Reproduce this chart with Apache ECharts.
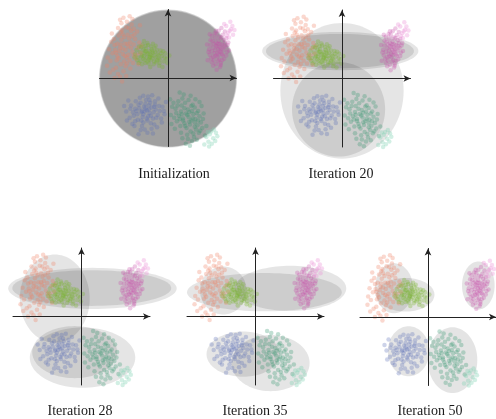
<!DOCTYPE html>
<html>
<head>
<meta charset="utf-8">
<script src="https://cdn.jsdelivr.net/npm/echarts@6/dist/echarts.min.js"></script>
<style>html,body{margin:0;padding:0;background:#fff;}#c{width:496px;height:419px;}</style>
</head>
<body>
<div id="c"></div>
<script>
// ---- data (axis units, range -10..10) ----
var orangePts = [[-6.2,4.1],[-5.8,4.6],[-6.6,3.5],[-5.5,5.2],[-7.0,4.4],[-6.0,3.0],[-5.2,3.8],[-6.8,5.6],[-7.4,3.2],[-5.9,6.3],[-6.4,2.4],[-5.0,4.9],[-7.8,4.8],[-6.9,2.0],[-5.4,6.9],[-6.1,7.4],[-7.2,6.2],[-4.8,5.7],[-7.6,1.5],[-6.5,1.0],[-8.1,3.6],[-5.6,2.6],[-4.6,3.4],[-6.3,5.0],[-7.1,3.9],[-5.3,7.8],[-6.7,7.0],[-8.4,2.5],[-7.3,0.6],[-5.7,5.8],[-4.9,6.4],[-6.0,8.2],[-7.9,5.7],[-6.6,4.3],[-5.1,2.2],[-8.0,1.2],[-6.2,1.7],[-7.5,2.6],[-4.4,4.4],[-5.8,3.4],[-6.9,6.7],[-5.0,7.2],[-7.7,4.1],[-6.4,6.0],[-8.6,4.2],[-7.0,0.2],[-5.5,1.4],[-4.7,2.8],[-6.8,8.0],[-5.2,8.6],
  [-8.8,3.0],[-8.3,5.3],[-7.3,7.3],[-4.2,5.2],[-4.0,3.6],[-5.6,9.0],[-6.5,8.8],[-7.8,0.0],[-8.9,1.8],[-6.1,0.3],[-4.5,6.8],[-3.9,4.7],[-7.4,5.0],[-6.3,3.2],[-5.4,4.4],[-6.9,4.9],[-5.9,5.0],[-6.6,6.4],[-7.2,2.9],[-5.0,3.3],[-8.2,6.5],[-4.3,2.0],[-6.0,2.1],[-7.6,3.7],[-5.3,6.1],[-8.5,0.8],[-6.7,-0.5],[-4.1,7.7],[-5.7,7.3],[-7.0,8.5]];
var greenPts = [[-3.0,3.5],[-3.4,3.9],[-2.6,3.1],[-3.8,3.3],[-2.2,3.7],[-3.2,4.3],[-2.8,2.7],[-4.1,3.8],[-1.8,3.0],[-3.6,2.8],[-2.4,4.2],[-3.9,4.5],[-1.5,3.5],[-2.9,4.8],[-4.4,3.0],[-2.0,2.4],[-3.3,2.2],[-1.2,2.7],[-4.6,4.1],[-2.7,3.9],[-3.5,3.6],[-2.3,2.9],[-1.6,4.1],[-4.0,2.5],[-3.1,3.0],[-2.5,4.6],[-0.9,3.2],[-3.7,4.9],[-1.9,3.8],[-4.8,3.5],[-2.1,2.0],[-0.6,2.4],[-3.4,2.6],[-2.6,3.4],[-1.3,1.8],[-3.0,5.1],[-4.3,2.2],[-1.7,2.3],[-0.4,3.6],[-2.8,2.1],[-3.6,4.2],[-1.1,4.0],[-2.2,5.0],[-0.8,1.6],[-3.9,3.1],[-2.4,3.3],[-1.4,2.9],[-0.2,2.8],
  [-2.7,3.0],[-3.2,3.9],[-2.0,3.3],[-3.5,3.2],[-2.5,2.6],[-1.0,3.6],[-4.2,4.6],[-3.3,4.7],[-1.6,2.6],[-2.9,3.6],[-0.5,3.0],[-4.5,2.6],[-2.0,4.4],[-1.2,2.2],[-3.8,2.0],[-0.1,2.2],[0.2,3.3],[-2.6,1.6],[-3.5,5.4],[-1.8,4.7],[-4.9,3.0],[-1.4,3.3],[-2.3,3.9],[-3.0,2.4],[-0.7,3.9]];
var pinkPts = [[7.3,4.2],[7.0,4.7],[7.7,3.8],[6.8,3.6],[7.9,4.9],[7.4,5.4],[6.6,4.4],[8.1,4.1],[7.2,3.1],[6.9,5.8],[7.8,5.9],[6.4,3.9],[8.3,5.2],[7.5,2.7],[6.7,2.6],[7.1,6.4],[8.0,3.3],[6.2,4.8],[8.4,4.5],[7.6,4.5],[6.9,3.2],[7.3,5.0],[8.0,6.3],[6.5,5.4],[7.7,2.2],[6.1,3.4],[8.6,3.8],[7.0,2.0],[7.4,6.9],[8.2,2.8],[6.3,2.9],[6.8,6.5],[7.9,3.5],[7.2,4.6],[8.5,5.8],[6.0,4.2],[7.6,1.6],[6.6,1.8],[8.7,4.8],[7.0,5.2],[5.8,2.6],[7.5,3.9],[8.3,6.8],[6.4,6.1],[7.8,7.3],[7.1,1.2],
  [7.2,3.6],[6.9,4.1],[7.6,5.0],[8.2,4.7],[6.6,3.1],[7.8,4.3],[7.3,2.5],[6.2,5.5],[8.8,5.2],[7.5,6.0],[6.7,5.0],[8.5,3.3],[5.9,3.8],[7.9,2.6],[6.4,2.3],[7.0,6.9],[8.1,5.6],[7.4,3.4],[6.1,6.4],[8.9,4.0],[5.7,4.9],[7.7,1.9]];
var pinkTailPts = [[8.8,6.6],[9.2,7.1],[8.5,7.6],[9.5,6.3],[8.9,5.9],[9.7,7.0],[8.2,7.9],[9.1,8.2],[9.0,6.9],[8.6,6.2],[9.4,7.6]];
var bluePts = [[-3.1,-4.7],[-3.5,-4.2],[-2.7,-5.1],[-3.9,-5.0],[-2.4,-4.3],[-3.3,-3.8],[-2.9,-5.6],[-4.2,-4.4],[-2.1,-5.0],[-3.7,-5.7],[-2.6,-3.6],[-4.5,-5.3],[-1.8,-4.6],[-3.0,-6.2],[-4.0,-3.6],[-2.2,-5.9],[-3.4,-4.9],[-1.5,-5.4],[-4.8,-4.5],[-2.8,-4.0],[-3.6,-6.5],[-1.9,-3.9],[-4.4,-6.1],[-2.5,-6.6],[-5.1,-5.0],[-3.2,-3.2],[-1.2,-4.8],[-4.7,-3.4],[-2.0,-6.8],[-3.8,-7.0],[-5.4,-4.0],[-1.0,-5.9],[-2.9,-2.7],[-4.1,-2.9],[-0.8,-4.2],[-5.6,-5.8],[-3.4,-7.5],[-1.6,-7.2],[-5.8,-3.3],[-2.3,-2.5],[-4.9,-7.0],[-0.5,-5.3],[-6.1,-4.9],[-3.0,-8.0],[-4.3,-8.2],[-0.3,-3.5],[-1.4,-3.0],[-5.2,-6.7],
  [-3.3,-4.4],[-2.8,-4.6],[-3.8,-4.8],[-2.5,-5.5],[-3.6,-5.3],[-4.6,-4.8],[-2.0,-4.2],[-3.1,-5.9],[-4.3,-3.9],[-1.7,-5.8],[-5.0,-5.5],[-2.7,-3.2],[-3.9,-6.2],[-1.3,-4.1],[-4.0,-7.6],[-2.4,-7.4],[-5.5,-4.5],[-0.9,-6.5],[-6.4,-4.1],[-3.6,-2.6],[-2.2,-8.1],[-4.8,-6.3],[-1.9,-3.4],[-6.0,-6.2],[-0.6,-4.8]];
var tealPts = [[3.0,-5.7],[2.6,-5.2],[3.4,-6.2],[2.2,-5.9],[3.7,-5.3],[2.9,-4.6],[3.2,-6.8],[1.9,-4.9],[4.0,-6.0],[2.4,-6.6],[3.5,-4.8],[1.6,-5.5],[4.3,-6.9],[2.7,-7.3],[3.9,-4.3],[1.3,-6.3],[4.6,-5.6],[2.0,-4.0],[3.3,-7.8],[2.5,-3.6],[4.1,-7.5],[1.1,-4.5],[3.6,-3.9],[4.8,-6.5],[1.8,-7.0],[3.0,-3.2],[4.4,-4.8],[0.9,-5.8],[2.8,-8.3],[5.0,-7.3],[1.5,-3.4],[3.8,-8.6],[0.6,-4.2],[4.5,-8.0],[2.1,-8.8],[3.3,-2.6],[5.2,-5.2],[1.0,-7.4],[2.3,-2.4],[4.0,-3.1],[3.5,-9.2],[0.5,-6.7],[5.4,-8.4],[2.6,-9.6],[1.7,-2.1],[4.9,-4.1],[0.3,-3.1],[3.1,-5.0],[2.2,-6.2],[3.9,-6.5],
  [2.8,-5.4],[3.6,-5.9],[2.4,-4.4],[3.1,-6.4],[4.2,-5.1],[1.7,-6.0],[2.5,-7.0],[3.9,-7.1],[2.0,-5.3],[4.7,-7.7],[3.4,-4.1],[1.4,-4.0],[4.4,-6.2],[2.9,-8.9],[1.2,-5.1],[5.1,-6.0],[3.7,-8.1],[0.8,-3.6],[2.1,-3.0],[4.6,-3.5],[1.9,-8.0],[5.6,-7.0],[3.2,-9.9],[0.4,-5.4],[4.2,-9.0]];
var tealTailPts = [[5.6,-8.6],[6.1,-8.2],[5.9,-9.3],[6.6,-8.8],[6.3,-7.8],[5.3,-9.7],[6.9,-9.2],[7.2,-8.5],[6.0,-10.0],[6.7,-7.5],[5.8,-7.9],[6.4,-9.6],[7.0,-8.0]];

// ellipses per panel: [cx, cy, rx, ry]
var ellInit = [[0,-0.1,10.1,10.1],[0,-0.1,10.0,10.0],[0,-0.1,9.9,9.9],[0,-0.05,10.05,10.05],[0,-0.1,9.95,9.95]];
var ellIter20 = [[0,-1.8,9.0,9.9],[-0.5,-4.5,6.8,6.9],[-0.25,4.0,11.4,2.8],[-0.3,4.0,10.8,2.5]];
var ellIter28 = [[-3.9,2.6,5.1,6.45],[1.6,4.1,12.3,3.0],[1.5,4.15,11.6,2.6],[0.15,-6.0,7.7,4.4],[-1.0,-5.2,6.2,3.8]];
var ellIter35 = [[-4.7,3.8,3.4,3.5],[1.3,3.55,11.3,2.8],[5.1,4.1,8.15,3.3],[-1.8,-5.5,5.35,3.3],[2.2,-6.8,5.7,4.1]];
var ellIter50 = [[7.4,4.6,2.4,3.5],[-5.0,4.2,2.8,3.65],[-3.3,3.25,4.25,2.45],[-2.85,-5.0,3.05,3.65],[3.6,-6.3,3.65,4.8]];

var panelTitles = ['Initialization','Iteration 20','Iteration 28','Iteration 35','Iteration 50'];

// ---- layout ----
var panels = [
  {left:99.5, top:9.5, ell:ellInit, alpha:0.088, tx:174, ty:174},
  {left:273.5, top:10, ell:ellIter20, alpha:0.1, tx:341, ty:174},
  {left:13, top:248, ell:ellIter28, alpha:0.1, tx:80, ty:411},
  {left:187, top:248, ell:ellIter35, alpha:0.1, tx:255, ty:411},
  {left:360, top:248.5, ell:ellIter50, alpha:0.105, tx:430, ty:411}
];
var SIZE = 137;

var clusters = [
  {d:orangePts, c:'rgba(238,128,98,0.38)'},
  {d:greenPts, c:'rgba(122,180,48,0.4)'},
  {d:pinkPts, c:'rgba(200,80,170,0.38)'},
  {d:pinkTailPts, c:'rgba(236,150,215,0.45)'},
  {d:bluePts, c:'rgba(92,110,182,0.38)'},
  {d:tealPts, c:'rgba(52,150,112,0.38)'},
  {d:tealTailPts, c:'rgba(130,210,180,0.45)'}
];

var grids=[], xAxes=[], yAxes=[], series=[], graphics=[];
panels.forEach(function(p,i){
  grids.push({left:p.left, top:p.top, width:SIZE, height:SIZE});
  var axisCommon = {gridIndex:i, type:'value', min:-10, max:10, z:5,
    axisLine:{show:true, onZero:true, symbol:['none','arrow'], symbolSize:[5,7], lineStyle:{color:'#222', width:1}},
    axisTick:{show:false}, axisLabel:{show:false}, splitLine:{show:false}};
  xAxes.push(Object.assign({}, axisCommon));
  yAxes.push(Object.assign({}, axisCommon));
  (function(alpha){
    series.push({
      type:'custom', xAxisIndex:i, yAxisIndex:i, z:1, silent:true, clip:false,
      data:p.ell, encode:{x:0,y:1},
      renderItem:function(params, api){
        var cx=api.value(0), cy=api.value(1), rx=api.value(2), ry=api.value(3);
        var pts=[];
        for (var k=0;k<96;k++){
          var t=k/96*Math.PI*2;
          pts.push(api.coord([cx+rx*Math.cos(t), cy+ry*Math.sin(t)]));
        }
        return {type:'polygon', shape:{points:pts}, style:{fill:'rgba(0,0,0,'+alpha+')', stroke:null}};
      }
    });
  })(p.alpha);
  clusters.forEach(function(cl){
    series.push({type:'scatter', xAxisIndex:i, yAxisIndex:i, z:2, clip:false, silent:true,
      symbolSize:4.5, data:cl.d, itemStyle:{color:cl.c}});
  });
  graphics.push({type:'text', x:p.tx, y:p.ty,
    style:{text:panelTitles[i], font:'14px "Liberation Serif", serif', fill:'#1a1a1a', textAlign:'center', textVerticalAlign:'middle'}});
});

var chart = echarts.init(document.getElementById('c'), null, {renderer:'canvas'});
chart.setOption({
  animation:false,
  backgroundColor:'#fff',
  grid:grids, xAxis:xAxes, yAxis:yAxes, series:series,
  graphic:graphics
});
</script>
</body>
</html>
